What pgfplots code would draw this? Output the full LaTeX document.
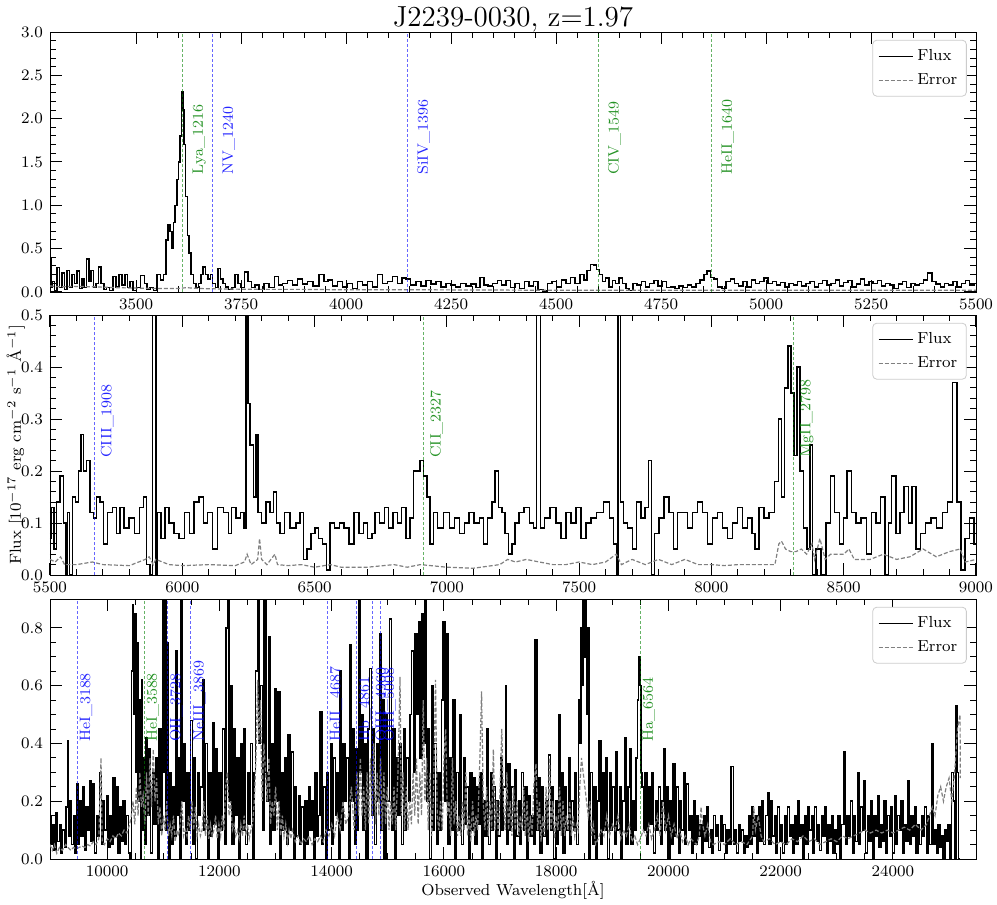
\documentclass[border=0pt]{standalone}
\usepackage{pgfplots}
\pgfplotsset{compat=1.18}
\definecolor{mplgreen}{RGB}{0,128,0}
\definecolor{mplblue}{RGB}{0,0,255}
\tikzset{lab/.style={rotate=90, anchor=north west, inner xsep=0pt, inner ysep=0.5pt, font=\fontsize{7.5}{9}\selectfont, text opacity=0.85}}
\pgfplotsset{
 spec/.style={
   scale only axis, width=463pt, height=130pt,
   tick align=inside, xtick pos=both, ytick pos=both,
   xticklabel pos=lower, yticklabel pos=left,
   major tick length=6pt, minor tick length=3pt,
   every tick/.style={black, line width=0.5pt},
   every tick label/.append style={font=\fontsize{7.8}{9}\selectfont},
   x tick label style={/pgf/number format/set thousands separator={}},
   y tick label style={/pgf/number format/fixed, /pgf/number format/fixed zerofill, /pgf/number format/precision=1},
   scaled ticks=false,
   legend style={at={(0.99,0.97)}, anchor=north east, draw=black!20, rounded corners=2pt,
     fill=white, font=\fontsize{8}{9}\selectfont, row sep=1pt, inner sep=2.5pt},
   legend cell align=left,
   label style={font=\fontsize{8}{9}\selectfont},
   y label style={at={(axis description cs:0,0.5)}, anchor=south, yshift=9pt},
   x label style={yshift=4.5pt},
 },
 flux/.style={black, line width=0.75pt, const plot mark mid, no marks,
   legend image code/.code={\draw[black, line width=0.75pt] (0cm,0cm) -- (0.6cm,0cm);}},
 err/.style={gray, line width=0.6pt, dash pattern=on 2pt off 1pt, no marks},
 gl/.style={mplgreen, draw opacity=0.6, line width=0.45pt, dash pattern=on 1.5pt off 1pt, forget plot, no marks},
 bl/.style={mplblue, draw opacity=0.6, line width=0.45pt, dash pattern=on 1.5pt off 1pt, forget plot, no marks},
}
\begin{document}
\begin{tikzpicture}
\useasboundingbox (-25pt,16pt) rectangle (473.5pt,-436.5pt);
% ---------------- Panel 1 ----------------
\begin{axis}[spec, name=p1, at={(0pt,0pt)}, anchor=north west,
  xmin=3295, xmax=5500, ymin=0, ymax=3,
  xtick={3500,3750,...,5500}, minor x tick num=4,
  ytick={0,0.5,...,3.0}, minor y tick num=4]
\addplot[flux] table {
3295 0.38
3299 0.05
3303 0.12
3309 0.02
3315 0.28
3320 0.05
3327 0.22
3332 0.03
3339 0.25
3344 0.05
3351 0.20
3356 0.10
3362 0.24
3368 0.04
3374 0.15
3379 0.05
3385 0.38
3390 0.12
3396 0.25
3401 0.06
3408 0.10
3414 0.29
3420 0.10
3426 0.03
3434 0.05
3440 0.02
3450 0.18
3455 0.06
3463 0.20
3470 0.08
3476 0.20
3482 0.05
3489 0.12
3496 0.02
3505 0.05
3517 0.19
3524 0.10
3529 0.03
3537 0.05
3545 0.02
3555 0.20
3562 0.14
3569 0.20
3574 0.60
3578 0.78
3583 0.70
3587 0.50
3591 0.80
3595 1.00
3599 1.30
3603 1.50
3607 1.80
3610 2.31
3613 2.10
3616 1.70
3620 1.10
3624 0.65
3628 0.45
3634 0.20
3640 0.10
3646 0.05
3652 0.10
3657 0.20
3662 0.29
3668 0.20
3674 0.15
3680 0.20
3685 0.10
3692 0.05
3698 0.27
3704 0.15
3709 0.10
3716 0.06
3724 0.03
3732 0.05
3739 0.20
3746 0.10
3753 0.05
3763 0.23
3771 0.12
3779 0.05
3787 0.08
3799 0.03
3811 0.10
3823 0.05
3835 0.18
3843 0.08
3855 0.10
3866 0.13
3878 0.08
3890 0.15
3902 0.09
3914 0.12
3928 0.07
3942 0.20
3952 0.12
3962 0.14
3974 0.07
3986 0.12
3997 0.06
4009 0.10
4021 0.04
4033 0.12
4045 0.08
4057 0.12
4069 0.06
4081 0.20
4093 0.10
4105 0.12
4117 0.18
4128 0.10
4138 0.16
4148 0.15
4160 0.08
4172 0.12
4184 0.07
4196 0.13
4208 0.09
4220 0.12
4232 0.06
4243 0.10
4255 0.08
4267 0.06
4279 0.10
4291 0.07
4303 0.09
4315 0.05
4323 0.17
4333 0.08
4343 0.07
4355 0.10
4366 0.13
4375 0.08
4386 0.13
4397 0.05
4408 0.10
4419 0.04
4430 0.12
4441 0.07
4452 0.12
4463 0.03
4474 0.01
4485 0.10
4496 0.12
4507 0.06
4518 0.14
4529 0.10
4540 0.17
4551 0.10
4562 0.20
4570 0.14
4578 0.25
4585 0.32
4593 0.31
4600 0.26
4607 0.20
4614 0.12
4622 0.16
4630 0.06
4638 0.13
4646 0.10
4654 0.16
4662 0.10
4670 0.04
4678 0.02
4688 0.10
4698 0.08
4708 0.12
4718 0.06
4728 0.10
4738 0.13
4748 0.07
4758 0.12
4768 0.05
4778 0.06
4788 0.04
4798 0.07
4808 0.05
4818 0.08
4828 0.06
4838 0.10
4848 0.14
4856 0.20
4864 0.24
4872 0.17
4880 0.15
4890 0.06
4900 0.04
4910 0.12
4920 0.15
4930 0.10
4940 0.07
4950 0.12
4960 0.06
4970 0.14
4980 0.10
4990 0.12
5000 0.16
5010 0.10
5020 0.12
5030 0.08
5040 0.11
5050 0.06
5060 0.10
5070 0.08
5080 0.12
5090 0.07
5100 0.10
5110 0.12
5120 0.06
5130 0.10
5140 0.13
5150 0.08
5160 0.10
5170 0.14
5180 0.07
5190 0.11
5200 0.13
5210 0.06
5220 0.09
5230 0.15
5240 0.08
5250 0.12
5260 0.10
5270 0.13
5280 0.07
5290 0.10
5300 0.08
5310 0.04
5320 0.09
5330 0.12
5340 0.05
5350 0.10
5360 0.08
5370 0.10
5380 0.14
5390 0.22
5400 0.12
5410 0.09
5420 0.06
5430 0.10
5440 0.08
5450 0.12
5460 0.06
5470 0.10
5480 0.13
5490 0.08
5500 0.10
};
\addlegendentry{Flux}
\addplot[err] table {
3295 0.07
3320 0.06
3350 0.065
3400 0.06
3450 0.05
3500 0.045
3550 0.04
3600 0.04
3620 0.05
3650 0.04
3700 0.035
3800 0.03
3900 0.03
4000 0.025
4200 0.025
4500 0.02
5000 0.02
5500 0.02
};
\addlegendentry{Error}
\addplot[gl] coordinates {(3611.52,0) (3611.52,3)};
\addplot[bl] coordinates {(3682.8,0) (3682.8,3)};
\addplot[bl] coordinates {(4146.12,0) (4146.12,3)};
\addplot[gl] coordinates {(4600.53,0) (4600.53,3)};
\addplot[gl] coordinates {(4870.8,0) (4870.8,3)};
\node[lab, text=mplgreen] at (axis cs:3631.52,1.35) {Lya\_1216};
\node[lab, text=mplblue] at (axis cs:3702.8,1.35) {NV\_1240};
\node[lab, text=mplblue] at (axis cs:4166.12,1.35) {SiIV\_1396};
\node[lab, text=mplgreen] at (axis cs:4620.53,1.35) {CIV\_1549};
\node[lab, text=mplgreen] at (axis cs:4890.8,1.35) {HeII\_1640};
\end{axis}
\node[anchor=base, font=\fontsize{14.5}{16}\selectfont, inner sep=0pt] at ([yshift=3pt]p1.north) {J2239-0030, z=1.97};
% ---------------- Panel 2 ----------------
\begin{axis}[spec, at={(0pt,-141.5pt)}, anchor=north west,
  xmin=5500, xmax=9000, ymin=0, ymax=0.5,
  xtick={5500,6000,...,9000}, minor x tick num=4,
  ytick={0,0.1,...,0.5}, minor y tick num=4,
  ylabel={Flux [$10^{-17}$ erg cm$^{-2}$ s$^{-1}$ \AA$^{-1}$]}]
\addplot[flux] table {
5500 0.07
5513 0.13
5519 0.05
5532 0.14
5544 0.19
5557 0.10
5563 0.00
5569 0.12
5579 0.00
5591 0.15
5601 0.14
5613 0.20
5620 0.27
5632 0.20
5645 0.22
5658 0.12
5670 0.11
5683 0.15
5695 0.14
5708 0.06
5727 0.12
5746 0.13
5758 0.08
5771 0.13
5790 0.09
5809 0.11
5828 0.08
5847 0.13
5859 0.15
5872 0.02
5884 0.00
5891 3.00
5897 3.00
5903 0.00
5910 0.12
5928 0.07
5941 0.13
5960 0.10
5979 0.08
5998 0.07
6017 0.12
6036 0.08
6054 0.14
6073 0.15
6086 0.10
6105 0.12
6124 0.05
6143 0.13
6168 0.12
6180 0.08
6193 0.13
6212 0.11
6228 0.12
6237 0.09
6243 3.00
6247 3.00
6250 0.33
6262 0.25
6275 0.15
6281 0.27
6291 0.12
6306 0.10
6325 0.14
6338 0.12
6351 0.16
6363 0.10
6376 0.08
6395 0.12
6420 0.09
6439 0.10
6451 0.12
6464 0.03
6477 0.05
6495 0.08
6508 0.09
6521 0.07
6540 0.06
6552 0.01
6565 0.10
6584 0.09
6603 0.10
6621 0.09
6640 0.06
6659 0.12
6678 0.08
6691 0.10
6710 0.07
6723 0.08
6735 0.12
6754 0.10
6773 0.13
6786 0.09
6805 0.12
6823 0.10
6836 0.13
6855 0.07
6868 0.11
6880 0.20
6893 0.20
6905 0.22
6918 0.19
6931 0.15
6943 0.06
6956 0.12
6975 0.09
7000 0.12
7019 0.09
7038 0.11
7057 0.08
7075 0.10
7094 0.12
7113 0.10
7132 0.11
7145 0.06
7164 0.11
7176 0.14
7189 0.20
7201 0.13
7214 0.12
7227 0.08
7239 0.04
7252 0.06
7264 0.10
7283 0.12
7302 0.13
7321 0.10
7334 0.09
7344 3.00
7349 3.00
7359 0.09
7378 0.11
7403 0.13
7422 0.10
7441 0.07
7460 0.12
7479 0.10
7498 0.13
7516 0.07
7535 0.10
7554 0.11
7579 0.12
7605 0.14
7624 0.11
7636 0.06
7645 0.00
7649 3.00
7652 3.00
7661 0.14
7673 0.10
7692 0.09
7711 0.05
7724 0.14
7743 0.11
7755 0.13
7768 0.22
7778 0.00
7793 0.08
7812 0.11
7831 0.15
7850 0.12
7863 0.05
7881 0.12
7900 0.12
7919 0.09
7938 0.12
7957 0.14
7976 0.12
7995 0.06
8014 0.11
8033 0.12
8052 0.09
8070 0.07
8089 0.10
8108 0.13
8127 0.09
8146 0.11
8159 0.08
8171 0.05
8190 0.13
8209 0.11
8228 0.12
8247 0.18
8259 0.30
8272 0.15
8282 0.36
8295 0.44
8307 0.35
8316 0.23
8329 0.40
8341 0.20
8354 0.09
8367 0.05
8379 0.25
8385 0.00
8404 0.05
8423 0.00
8442 0.10
8458 0.19
8474 0.12
8493 0.06
8505 0.11
8521 0.20
8537 0.12
8556 0.10
8574 0.11
8597 0.04
8612 0.12
8631 0.10
8648 0.15
8663 0.00
8675 0.10
8688 0.19
8707 0.08
8719 0.12
8736 0.17
8753 0.10
8763 0.17
8782 0.05
8799 0.08
8820 0.10
8839 0.11
8864 0.09
8883 0.12
8902 0.14
8921 0.37
8934 0.14
8952 0.01
8965 0.07
8984 0.11
9000 0.06
};
\addlegendentry{Flux}
\addplot[err] table {
5500 0.030
5520 0.025
5540 0.035
5555 0.020
5600 0.020
5660 0.025
5700 0.020
5800 0.018
5860 0.030
5875 0.035
5890 0.020
5900 0.030
5950 0.020
6000 0.018
6100 0.020
6200 0.018
6235 0.025
6245 0.040
6260 0.020
6285 0.030
6292 0.070
6300 0.030
6320 0.020
6350 0.040
6360 0.020
6400 0.018
6450 0.020
6500 0.015
6560 0.020
6600 0.015
6700 0.015
6800 0.020
6850 0.015
6900 0.020
7000 0.015
7100 0.013
7200 0.020
7230 0.030
7260 0.025
7300 0.030
7350 0.025
7400 0.020
7450 0.020
7500 0.025
7550 0.020
7600 0.025
7640 0.040
7660 0.020
7700 0.030
7750 0.020
7800 0.030
7850 0.020
7900 0.030
7950 0.020
8000 0.020
8050 0.018
8100 0.020
8150 0.020
8200 0.020
8240 0.020
8255 0.060
8265 0.065
8280 0.050
8300 0.045
8320 0.045
8340 0.050
8360 0.040
8380 0.060
8390 0.030
8410 0.070
8430 0.030
8450 0.040
8500 0.040
8520 0.050
8540 0.030
8600 0.030
8650 0.040
8700 0.030
8750 0.035
8800 0.050
8850 0.035
8900 0.045
8940 0.050
8960 0.025
9000 0.030
};
\addlegendentry{Error}
\addplot[bl] coordinates {(5666.76,0) (5666.76,0.5)};
\addplot[gl] coordinates {(6911.19,0) (6911.19,0.5)};
\addplot[gl] coordinates {(8310.06,0) (8310.06,0.5)};
\node[lab, text=mplblue] at (axis cs:5686.76,0.225) {CIII\_1908};
\node[lab, text=mplgreen] at (axis cs:6931.19,0.225) {CII\_2327};
\node[lab, text=mplgreen] at (axis cs:8330.06,0.225) {MgII\_2798};
\end{axis}
% ---------------- Panel 3 ----------------
\begin{axis}[spec, at={(0pt,-283.5pt)}, anchor=north west,
  xmin=8980, xmax=25480, ymin=0, ymax=0.9,
  xtick={10000,12000,...,24000}, minor x tick num=3,
  ytick={0,0.2,...,0.8}, minor y tick num=3,
  xlabel={Observed Wavelength[\AA]}]
\addplot[flux] table {
8980 0.15
9010 0.05
9040 0.12
9070 0.03
9100 0.16
9130 0.06
9160 0.12
9190 0.02
9220 0.10
9250 0.04
9280 0.18
9300 0.41
9320 0.08
9350 0.20
9380 0.05
9410 0.15
9440 0.02
9468 0.26
9495 0.05
9520 0.20
9550 0.08
9580 0.25
9610 0.03
9640 0.18
9670 0.10
9700 0.27
9730 0.06
9760 0.26
9790 0.02
9820 0.15
9850 0.08
9880 0.30
9910 0.05
9940 0.20
9970 0.10
10000 0.22
10030 0.04
10060 0.15
10090 0.05
10120 0.28
10150 0.08
10180 0.25
10210 0.02
10240 0.18
10270 0.06
10300 0.20
10330 0.05
10360 0.15
10390 0.02
10420 0.00
10440 0.65
10460 0.88
10480 0.50
10500 0.85
10520 0.30
10540 0.75
10560 0.20
10580 0.55
10600 0.00
10614 0.62
10640 0.10
10660 0.35
10680 0.05
10700 0.42
10730 0.15
10760 0.38
10790 0.02
10820 0.30
10850 0.12
10880 0.35
10910 0.00
10940 0.45
10970 0.10
11000 0.95
11020 0.30
11040 0.95
11060 0.10
11080 0.75
11100 0.00
11130 0.30
11160 0.05
11190 0.25
11210 0.08
11237 0.72
11260 0.15
11290 0.35
11310 0.00
11326 0.95
11350 0.20
11380 0.40
11410 0.05
11440 0.30
11470 0.10
11500 0.48
11530 0.05
11560 0.35
11590 0.00
11620 0.30
11650 0.15
11680 0.25
11712 0.62
11740 0.10
11770 0.40
11800 0.00
11830 0.30
11860 0.08
11890 0.47
11920 0.12
11950 0.38
11980 0.00
12010 0.30
12040 0.10
12070 0.45
12100 0.05
12130 0.80
12158 0.95
12180 0.20
12210 0.60
12240 0.05
12270 0.45
12300 0.15
12330 0.35
12360 0.00
12390 0.40
12420 0.10
12450 0.45
12480 0.05
12510 0.30
12540 0.12
12570 0.40
12600 0.00
12630 0.30
12660 0.65
12693 0.95
12720 0.40
12750 0.60
12780 0.10
12812 0.95
12840 0.30
12860 0.20
12889 0.77
12910 0.05
12940 0.40
12970 0.10
13000 0.59
13030 0.20
13060 0.58
13090 0.00
13120 0.30
13150 0.10
13180 0.35
13210 0.05
13240 0.43
13270 0.10
13300 0.37
13330 0.00
13360 0.25
13390 0.08
13420 0.22
13450 0.05
13480 0.18
13510 0.00
13540 0.20
13570 0.05
13600 0.25
13630 0.10
13660 0.20
13690 0.00
13720 0.30
13750 0.08
13780 0.15
13809 0.51
13840 0.05
13870 0.25
13900 0.00
13930 0.30
13960 0.10
13990 0.40
14020 0.05
14050 0.35
14080 0.15
14110 0.30
14140 0.00
14160 0.65
14190 0.10
14220 0.40
14250 0.20
14280 0.35
14310 0.00
14338 0.74
14360 0.20
14390 0.45
14420 0.05
14450 0.38
14470 0.10
14492 0.95
14510 0.30
14540 0.50
14570 0.10
14600 0.40
14630 0.00
14660 0.45
14694 0.66
14720 0.15
14750 0.45
14780 0.05
14810 0.40
14840 0.20
14860 0.78
14890 0.10
14920 0.55
14950 0.00
14980 0.50
15010 0.20
15050 0.83
15080 0.10
15110 0.45
15140 0.00
15170 0.35
15200 0.15
15230 0.40
15260 0.05
15290 0.45
15320 0.10
15350 0.35
15380 0.20
15410 0.50
15440 0.72
15470 0.30
15500 0.78
15530 0.50
15560 0.82
15590 0.35
15620 0.85
15650 0.40
15680 0.95
15700 0.20
15730 0.45
15760 0.00
15790 0.60
15820 0.10
15850 0.40
15880 0.05
15910 0.30
15940 0.10
15970 0.55
16000 0.82
16030 0.20
16060 0.78
16090 0.05
16120 0.35
16150 0.10
16180 0.55
16210 0.00
16240 0.30
16270 0.10
16300 0.50
16330 0.05
16360 0.35
16390 0.12
16420 0.25
16450 0.00
16480 0.30
16510 0.10
16540 0.28
16570 0.05
16600 0.25
16630 0.12
16660 0.30
16690 0.00
16720 0.20
16750 0.08
16780 0.45
16810 0.05
16840 0.30
16870 0.10
16900 0.25
16930 0.00
16960 0.20
16990 0.08
17020 0.35
17050 0.10
17080 0.25
17106 0.60
17130 0.05
17160 0.33
17190 0.10
17220 0.25
17250 0.00
17280 0.31
17310 0.08
17340 0.20
17370 0.05
17400 0.30
17430 0.10
17460 0.25
17490 0.00
17520 0.22
17550 0.08
17580 0.15
17610 0.05
17640 0.76
17670 0.10
17700 0.28
17730 0.02
17760 0.25
17790 0.08
17820 0.20
17850 0.05
17880 0.36
17910 0.10
17940 0.25
17970 0.00
18000 0.20
18030 0.05
18056 0.50
18080 0.10
18110 0.30
18140 0.02
18170 0.25
18200 0.10
18230 0.35
18260 0.05
18290 0.20
18320 0.10
18350 0.30
18380 0.05
18410 0.55
18430 0.40
18450 0.80
18470 0.60
18490 0.95
18510 0.70
18530 0.95
18550 0.50
18573 0.80
18600 0.00
18630 0.30
18660 0.05
18690 0.25
18720 0.00
18750 0.20
18781 0.41
18810 0.05
18840 0.30
18870 0.10
18900 0.35
18930 0.00
18960 0.30
18990 0.10
19020 0.25
19050 0.05
19080 0.37
19110 0.10
19140 0.25
19170 0.00
19200 0.20
19226 0.42
19260 0.05
19290 0.25
19316 0.38
19350 0.05
19380 0.20
19410 0.10
19440 0.35
19460 0.55
19480 0.70
19500 0.60
19520 0.30
19540 0.25
19570 0.10
19600 0.30
19630 0.05
19660 0.25
19690 0.12
19720 0.30
19750 0.02
19780 0.20
19810 0.10
19840 0.25
19870 0.05
19900 0.20
19922 0.38
19950 0.10
19980 0.25
20010 0.00
20040 0.20
20070 0.05
20100 0.33
20130 0.08
20160 0.25
20190 0.02
20220 0.20
20250 0.10
20280 0.30
20310 0.05
20340 0.26
20370 0.10
20400 0.15
20430 0.02
20460 0.20
20490 0.05
20520 0.15
20550 0.08
20580 0.12
20610 0.02
20640 0.15
20670 0.06
20700 0.18
20730 0.04
20760 0.10
20790 0.02
20820 0.15
20850 0.08
20880 0.12
20910 0.03
20940 0.15
20970 0.06
21000 0.12
21030 0.02
21060 0.10
21090 0.05
21139 0.32
21170 0.05
21200 0.10
21230 0.02
21260 0.12
21290 0.06
21320 0.10
21350 0.02
21380 0.08
21410 0.04
21440 0.15
21470 0.05
21500 0.18
21530 0.08
21560 0.15
21590 0.02
21620 0.18
21650 0.06
21680 0.20
21710 0.05
21740 0.15
21781 0.23
21810 0.05
21840 0.20
21870 0.08
21900 0.15
21930 0.02
21960 0.18
21990 0.06
22020 0.12
22050 0.02
22080 0.15
22110 0.05
22140 0.18
22170 0.08
22200 0.12
22230 0.02
22260 0.15
22290 0.05
22320 0.20
22350 0.08
22380 0.12
22410 0.00
22440 0.15
22470 0.05
22500 0.18
22530 0.10
22560 0.15
22590 0.02
22620 0.18
22650 0.06
22680 0.12
22710 0.03
22740 0.15
22770 0.08
22800 0.18
22830 0.02
22860 0.12
22890 0.06
22920 0.15
22950 0.02
22980 0.10
23010 0.05
23040 0.15
23070 0.00
23100 0.12
23147 0.37
23170 0.05
23200 0.15
23230 0.08
23260 0.20
23290 0.02
23320 0.15
23350 0.06
23380 0.30
23410 0.05
23440 0.18
23470 0.10
23500 0.27
23530 0.02
23560 0.15
23590 0.06
23620 0.20
23650 0.00
23680 0.15
23710 0.08
23740 0.22
23770 0.04
23800 0.12
23830 0.06
23860 0.20
23890 0.02
23920 0.15
23950 0.08
23980 0.18
24010 0.02
24040 0.22
24070 0.05
24100 0.15
24130 0.10
24160 0.20
24190 0.02
24220 0.12
24250 0.06
24280 0.27
24310 0.05
24340 0.15
24370 0.08
24400 0.18
24430 0.02
24460 0.12
24490 0.05
24520 0.15
24550 0.08
24580 0.18
24610 0.02
24640 0.15
24670 0.05
24703 0.40
24730 0.05
24760 0.10
24790 0.02
24820 0.12
24850 0.04
24880 0.08
24910 0.00
24940 0.10
24970 0.06
25000 0.12
25030 0.00
25060 0.30
25090 0.20
25110 0.00
25137 0.53
25160 0.30
25180 0.00
};
\addlegendentry{Flux}
\addplot[err] table {
8980 0.05
9020 0.03
9060 0.05
9100 0.02
9150 0.04
9200 0.03
9260 0.05
9300 0.04
9350 0.03
9400 0.04
9450 0.035
9500 0.04
9550 0.045
9600 0.04
9650 0.05
9700 0.045
9750 0.06
9800 0.05
9850 0.07
9889 0.35
9910 0.06
9950 0.05
10000 0.07
10050 0.06
10100 0.08
10150 0.07
10200 0.09
10250 0.08
10300 0.10
10350 0.09
10400 0.12
10430 0.15
10460 0.20
10490 0.12
10520 0.25
10550 0.15
10580 0.30
10610 0.18
10640 0.22
10670 0.12
10700 0.30
10730 0.15
10760 0.35
10790 0.18
10820 0.38
10850 0.20
10880 0.28
10910 0.12
10940 0.18
10970 0.08
11000 0.15
11030 0.10
11060 0.20
11090 0.08
11120 0.12
11150 0.08
11180 0.15
11210 0.06
11240 0.10
11270 0.08
11300 0.12
11330 0.20
11360 0.08
11390 0.10
11420 0.08
11450 0.15
11480 0.10
11510 0.20
11540 0.10
11570 0.18
11600 0.08
11630 0.12
11660 0.08
11690 0.10
11720 0.20
11750 0.08
11780 0.15
11810 0.07
11840 0.12
11870 0.08
11900 0.10
11930 0.15
11960 0.07
11990 0.12
12020 0.08
12050 0.15
12080 0.10
12110 0.25
12140 0.30
12170 0.15
12200 0.20
12230 0.10
12260 0.12
12290 0.08
12320 0.10
12350 0.07
12380 0.12
12410 0.08
12440 0.15
12470 0.08
12500 0.12
12530 0.07
12560 0.10
12590 0.12
12620 0.20
12650 0.35
12680 0.62
12700 0.40
12730 0.55
12760 0.20
12790 0.40
12820 0.30
12850 0.20
12880 0.35
12910 0.12
12940 0.20
12970 0.15
13000 0.25
13030 0.10
13060 0.20
13090 0.08
13120 0.15
13150 0.08
13180 0.12
13210 0.06
13240 0.10
13270 0.07
13300 0.10
13350 0.06
13400 0.08
13450 0.05
13500 0.07
13550 0.06
13600 0.08
13650 0.05
13700 0.07
13750 0.06
13800 0.08
13850 0.06
13900 0.10
13950 0.08
14000 0.12
14050 0.08
14100 0.15
14150 0.10
14200 0.20
14250 0.12
14300 0.15
14350 0.25
14400 0.10
14450 0.30
14480 0.15
14510 0.35
14540 0.15
14570 0.25
14600 0.10
14630 0.30
14660 0.12
14690 0.35
14720 0.15
14750 0.40
14780 0.12
14810 0.30
14840 0.15
14870 0.35
14900 0.10
14930 0.30
14960 0.12
14990 0.25
15020 0.10
15050 0.20
15080 0.12
15110 0.25
15140 0.10
15180 0.30
15217 0.63
15240 0.15
15270 0.30
15300 0.10
15330 0.25
15360 0.10
15390 0.20
15420 0.12
15450 0.30
15480 0.15
15510 0.35
15540 0.12
15570 0.30
15600 0.15
15630 0.55
15660 0.20
15690 0.35
15720 0.10
15750 0.30
15780 0.08
15810 0.20
15850 0.62
15880 0.15
15910 0.10
15940 0.20
15970 0.10
16000 0.35
16030 0.45
16060 0.15
16090 0.20
16120 0.08
16150 0.35
16180 0.12
16210 0.20
16240 0.08
16270 0.15
16300 0.08
16330 0.20
16360 0.10
16390 0.30
16420 0.08
16450 0.15
16480 0.06
16510 0.20
16540 0.08
16570 0.15
16600 0.10
16640 0.35
16670 0.58
16700 0.20
16730 0.10
16760 0.25
16790 0.08
16820 0.20
16850 0.10
16880 0.38
16910 0.10
16940 0.20
16970 0.08
17000 0.25
17030 0.45
17060 0.20
17090 0.10
17120 0.30
17150 0.10
17180 0.20
17210 0.08
17240 0.25
17270 0.10
17300 0.20
17330 0.08
17360 0.15
17390 0.10
17420 0.25
17450 0.08
17480 0.20
17510 0.06
17540 0.15
17570 0.08
17600 0.25
17640 0.33
17670 0.10
17700 0.20
17730 0.06
17760 0.15
17790 0.08
17820 0.25
17850 0.10
17880 0.35
17910 0.10
17940 0.20
17970 0.07
18000 0.15
18030 0.10
18060 0.25
18090 0.08
18120 0.20
18150 0.08
18180 0.15
18210 0.10
18240 0.20
18270 0.08
18300 0.15
18330 0.08
18360 0.12
18390 0.10
18420 0.25
18450 0.35
18480 0.30
18510 0.25
18540 0.20
18570 0.15
18600 0.20
18630 0.08
18660 0.12
18700 0.05
18750 0.07
18800 0.10
18850 0.08
18900 0.15
18950 0.08
19000 0.12
19050 0.10
19100 0.15
19150 0.07
19200 0.10
19250 0.08
19300 0.12
19350 0.06
19400 0.08
19450 0.05
19500 0.07
19550 0.10
19600 0.08
19650 0.12
19700 0.07
19750 0.10
19800 0.15
19850 0.08
19900 0.20
19950 0.10
20000 0.15
20050 0.08
20100 0.12
20150 0.07
20200 0.10
20250 0.06
20300 0.08
20350 0.05
20400 0.07
20450 0.06
20500 0.05
20550 0.08
20580 0.18
20610 0.12
20650 0.08
20700 0.12
20750 0.06
20800 0.05
20900 0.06
21000 0.05
21100 0.07
21200 0.05
21300 0.06
21400 0.05
21500 0.08
21520 0.18
21550 0.10
21600 0.15
21650 0.08
21700 0.06
21800 0.07
21900 0.05
22000 0.06
22100 0.05
22200 0.07
22300 0.06
22400 0.08
22500 0.06
22600 0.07
22700 0.05
22800 0.06
22900 0.07
23000 0.06
23100 0.08
23200 0.07
23300 0.08
23400 0.09
23500 0.10
23600 0.09
23700 0.10
23800 0.09
23900 0.10
24000 0.09
24100 0.10
24200 0.11
24300 0.10
24400 0.12
24500 0.10
24600 0.12
24700 0.18
24750 0.15
24800 0.22
24850 0.25
24900 0.20
24950 0.25
25000 0.28
25050 0.20
25100 0.30
25150 0.45
25196 0.50
25200 0.28
};
\addlegendentry{Error}
\addplot[bl] coordinates {(9468.36,0) (9468.36,0.9)};
\addplot[gl] coordinates {(10656.36,0) (10656.36,0.9)};
\addplot[bl] coordinates {(11072.16,0) (11072.16,0.9)};
\addplot[bl] coordinates {(11490.93,0) (11490.93,0.9)};
\addplot[bl] coordinates {(13920.39,0) (13920.39,0.9)};
\addplot[bl] coordinates {(14437.17,0) (14437.17,0.9)};
\addplot[bl] coordinates {(14731.2,0) (14731.2,0.9)};
\addplot[bl] coordinates {(14873.76,0) (14873.76,0.9)};
\addplot[gl] coordinates {(19495.08,0) (19495.08,0.9)};
\node[lab, text=mplblue] at (axis cs:9488.36,0.405) {HeI\_3188};
\node[lab, text=mplgreen] at (axis cs:10676.36,0.405) {HeI\_3588};
\node[lab, text=mplblue] at (axis cs:11092.16,0.405) {OII\_3728};
\node[lab, text=mplblue] at (axis cs:11510.93,0.405) {NeIII\_3869};
\node[lab, text=mplblue] at (axis cs:13940.39,0.405) {HeII\_4687};
\node[lab, text=mplblue] at (axis cs:14457.17,0.405) {Hb\_4861};
\node[lab, text=mplblue] at (axis cs:14751.2,0.405) {OIII\_4960};
\node[lab, text=mplblue] at (axis cs:14893.76,0.405) {OIII\_5008};
\node[lab, text=mplgreen] at (axis cs:19515.08,0.405) {Ha\_6564};
\end{axis}
\end{tikzpicture}
\end{document}
